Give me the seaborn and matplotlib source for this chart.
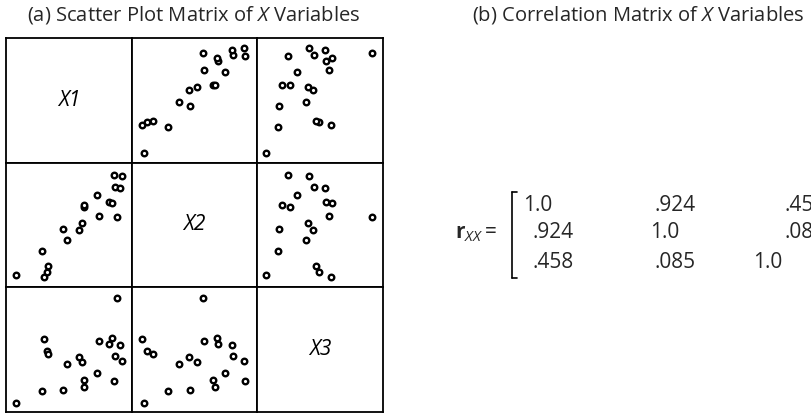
import pandas as pd
import matplotlib
matplotlib.use("Agg")
import matplotlib.pyplot as plt
from matplotlib.lines import Line2D
import seaborn as sns

# values (panel units, 0-125)
x1 = [10, 36, 38, 41, 42, 57, 61, 73, 76, 78, 78, 91, 93, 102, 105, 107, 108, 110, 113, 115]
x2 = [12, 36, 10, 15, 21, 58, 47, 57, 65, 81, 83, 93, 72, 86, 85, 113, 101, 71, 100, 112]
x3 = [9, 21, 73, 61, 58, 22, 48, 55, 50, 32, 25, 39, 71, 68, 74, 31, 56, 114, 67, 51]

var_names = ["X1", "X2", "X3"]
# printed correlation matrix
corr = [[1.0, .924, .458],
        [.924, 1.0, .085],
        [.458, .085, 1.0]]

df = pd.DataFrame({"X1": x1, "X2": x2, "X3": x3})

sns.set_theme(style="white")
plt.rcParams["font.family"] = ["Open Sans", "DejaVu Sans"]
plt.rcParams["mathtext.fontset"] = "custom"
plt.rcParams["mathtext.rm"] = "Open Sans"
plt.rcParams["mathtext.it"] = "Open Sans:italic"
plt.rcParams["mathtext.bf"] = "Open Sans:bold"


def diag_label(x, **kws):
    ax = plt.gca()
    ax.text(0.5, 0.5, x.name, transform=ax.transAxes, ha="center", va="center",
            fontsize=15, style="italic", color="black")


g = sns.PairGrid(df, vars=var_names, despine=False, height=1.25)
g.map_offdiag(sns.scatterplot, s=16, color="white", edgecolor="black", linewidth=1.7)
g.map_diag(diag_label)
g.set(xlim=(0, 125), ylim=(0, 125), xticks=[], yticks=[], xlabel="", ylabel="")
for ax in g.axes.flat:
    for sp in ax.spines.values():
        sp.set_color("black")
        sp.set_linewidth(1.3)

fig = g.figure
fig.set_size_inches(8.11, 4.13)
W, H = 811, 413
fig.subplots_adjust(left=6 / W, right=383 / W, top=1 - 38 / H, bottom=1 / H,
                    wspace=0, hspace=0)

fig.text(194 / W, 1 - 15 / H, "(a) Scatter Plot Matrix of $X$ Variables",
         ha="center", va="center", fontsize=14.5)
fig.text(638 / W, 1 - 15 / H, "(b) Correlation Matrix of $X$ Variables",
         ha="center", va="center", fontsize=14.5)

# correlation matrix as text
fig.text(455 / W, 1 - 233 / H, r"$\mathbf{r}_{XX} =$", ha="left", va="center", fontsize=15)
row_y = [205, 233, 262]
col_x = [533, 654, 785]
diag_x = [523, 650, 753]
for i in range(3):
    for j in range(3):
        v = corr[i][j]
        if i == j:
            s, xp = "1.0", diag_x[j]
        else:
            s, xp = ("%.3f" % v)[1:], col_x[j]
        fig.text(xp / W, 1 - row_y[i] / H, s, ha="left", va="center", fontsize=15)

# left bracket
bx, by0, by1 = 512, 192, 278
for xs, ys in [([bx, bx], [by0, by1]), ([bx, bx + 5], [by0, by0]), ([bx, bx + 5], [by1, by1])]:
    fig.add_artist(Line2D([v / W for v in xs], [1 - v / H for v in ys],
                          transform=fig.transFigure, color="black", lw=1.2))

fig.savefig("out.png", dpi=100)
